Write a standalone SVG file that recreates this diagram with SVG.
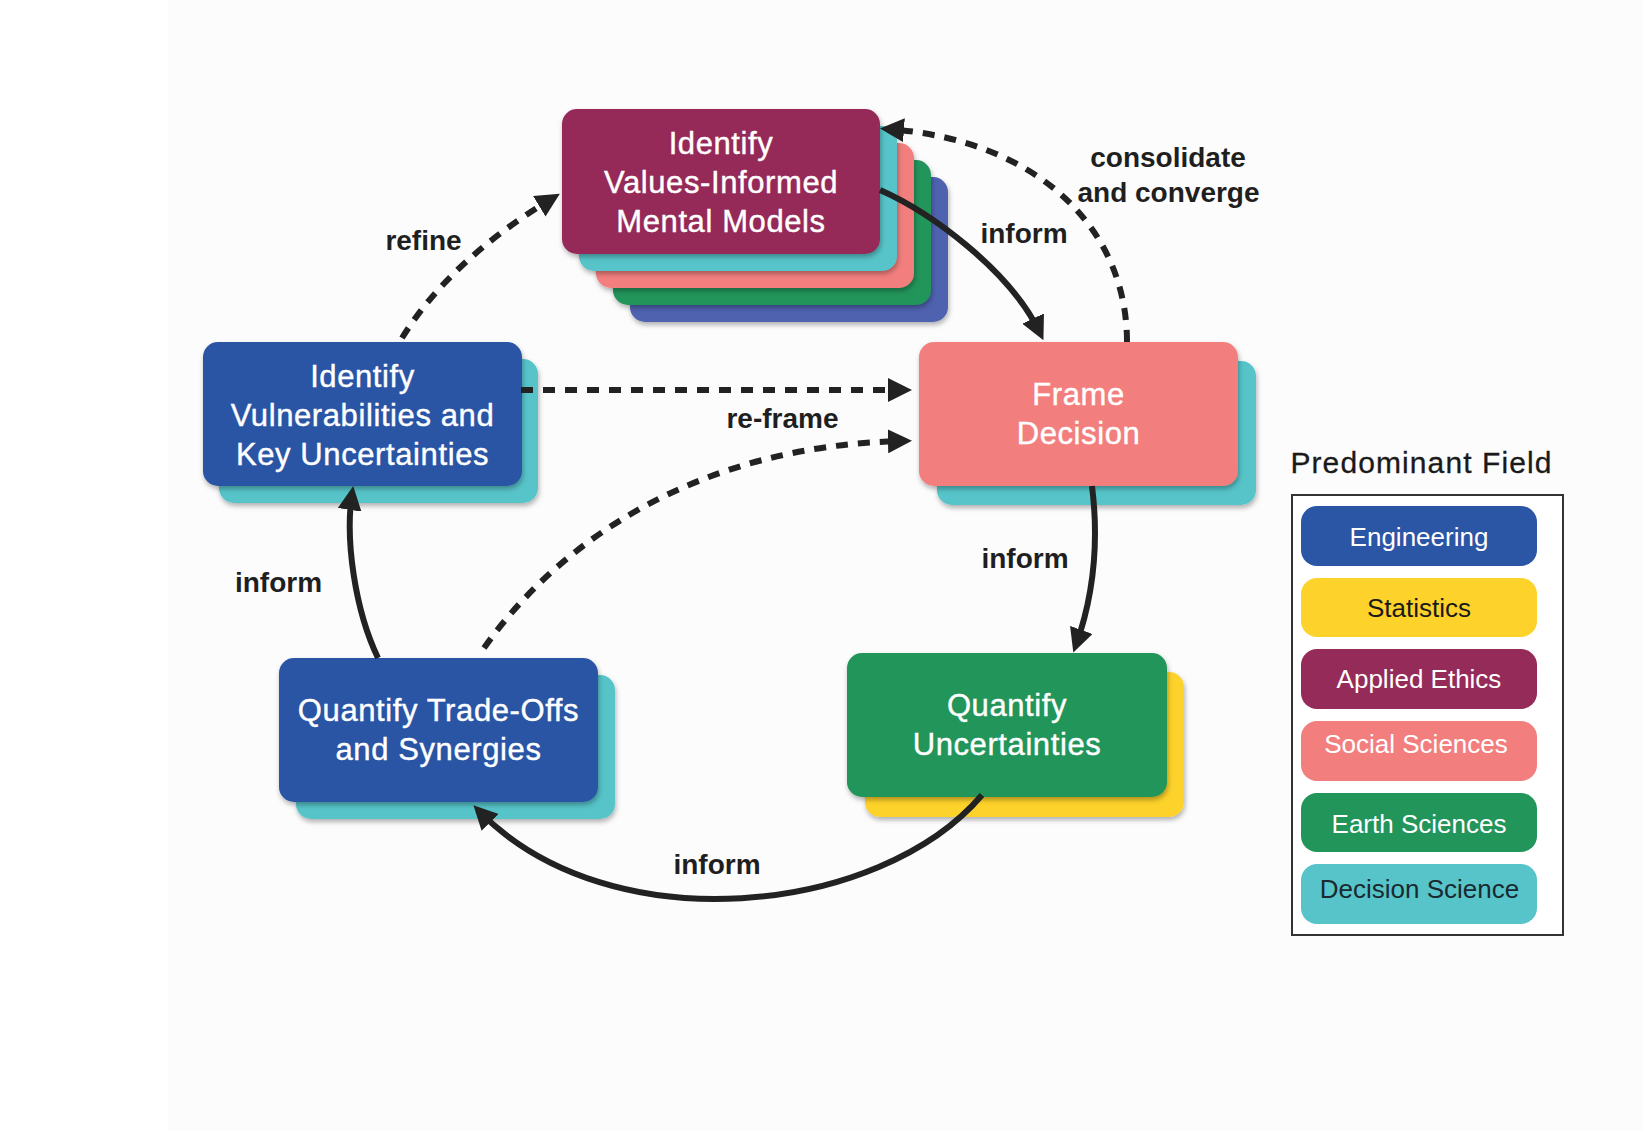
<svg xmlns="http://www.w3.org/2000/svg" width="1643" height="1131" viewBox="0 0 1643 1131">
<defs>
<filter id="sh" x="-10%" y="-10%" width="125%" height="135%">
<feDropShadow dx="1" dy="3" stdDeviation="2.5" flood-color="#000" flood-opacity="0.3"/>
</filter>
<marker id="ah" viewBox="0 0 24 24" refX="16" refY="12" markerWidth="24" markerHeight="24" markerUnits="userSpaceOnUse" orient="auto">
<path d="M0,0 L24,12 L0,24 z" fill="#222"/>
</marker>
<style>
.box{filter:url(#sh);}
.nt{font-family:"Liberation Sans",Arial,sans-serif;font-size:31px;fill:#fff;text-anchor:middle;letter-spacing:0.6px;stroke:#fff;stroke-width:0.4px;}
.lb{font-family:"Liberation Sans",Arial,sans-serif;font-size:28px;font-weight:bold;fill:#1f1f1f;text-anchor:middle;}
.lg{font-family:"Liberation Sans",Arial,sans-serif;font-size:26px;text-anchor:middle;}
.solid{fill:none;stroke:#222;stroke-width:6;marker-end:url(#ah);}
.dash{fill:none;stroke:#222;stroke-width:6;stroke-dasharray:12 10;marker-end:url(#ah);}
</style>
</defs>
<rect x="0" y="0" width="1643" height="1131" fill="#ffffff"/>
<rect x="168" y="0" width="1475" height="1131" fill="#fcfcfc"/>

<g id="node-values">
<rect class="box" x="630" y="177" width="318" height="145" rx="15" fill="#4f62b0"/>
<rect class="box" x="613" y="160" width="318" height="145" rx="15" fill="#22955a"/>
<rect class="box" x="596" y="143" width="318" height="145" rx="15" fill="#f27f7e"/>
<rect class="box" x="579" y="126" width="318" height="145" rx="15" fill="#57c4c9"/>
<rect class="box" x="562" y="109" width="318" height="145" rx="15" fill="#952b58"/>
<text class="nt" x="721" y="154">Identify</text>
<text class="nt" x="721" y="193">Values-Informed</text>
<text class="nt" x="721" y="232">Mental Models</text>
</g>

<g id="node-vulnerabilities">
<rect class="box" x="219" y="359" width="319" height="144" rx="15" fill="#57c4c9"/>
<rect class="box" x="203" y="342" width="319" height="144" rx="15" fill="#2b55a5"/>
<text class="nt" x="362.5" y="387">Identify</text>
<text class="nt" x="362.5" y="426">Vulnerabilities and</text>
<text class="nt" x="362.5" y="465">Key Uncertainties</text>
</g>

<g id="node-frame">
<rect class="box" x="937" y="361" width="319" height="144" rx="15" fill="#57c4c9"/>
<rect class="box" x="919" y="342" width="319" height="144" rx="15" fill="#f27f7e"/>
<text class="nt" x="1078.5" y="405">Frame</text>
<text class="nt" x="1078.5" y="444">Decision</text>
</g>

<g id="node-tradeoffs">
<rect class="box" x="296" y="675" width="319" height="144" rx="15" fill="#57c4c9"/>
<rect class="box" x="279" y="658" width="319" height="144" rx="15" fill="#2b55a5"/>
<text class="nt" x="438.5" y="721">Quantify Trade-Offs</text>
<text class="nt" x="438.5" y="760">and Synergies</text>
</g>

<g id="node-uncertainties">
<rect class="box" x="865" y="672" width="319" height="145" rx="15" fill="#fdd22a"/>
<rect class="box" x="847" y="653" width="320" height="144" rx="15" fill="#22955a"/>
<text class="nt" x="1007" y="716">Quantify</text>
<text class="nt" x="1007" y="755">Uncertainties</text>
</g>

<g id="connectors">
<path class="dash" d="M402,338 Q450,260 553,198"/>
<path class="solid" d="M880,190 C930,212 1010,270 1040,333"/>
<path class="dash" d="M1127,342 C1127,230 1040,140 888,129"/>
<path class="dash" d="M521,390 L904,390"/>
<path class="dash" d="M484,648 C560,540 700,445 904,441"/>
<path class="solid" d="M1092,486 C1100,550 1092,600 1076,645"/>
<path class="solid" d="M982,795 C880,915 610,945 479,811"/>
<path class="solid" d="M378,658 C355,610 345,540 352,494"/>
</g>

<g id="labels">
<text class="lb" x="423.5" y="250">refine</text>
<text class="lb" x="1024" y="243">inform</text>
<text class="lb" x="1168" y="167">consolidate</text>
<text class="lb" x="1168.5" y="202">and converge</text>
<text class="lb" x="782.5" y="428">re-frame</text>
<text class="lb" x="278.5" y="592">inform</text>
<text class="lb" x="1025" y="568">inform</text>
<text class="lb" x="717" y="874">inform</text>
</g>

<g id="legend">
<text x="1421.5" y="473" font-family="Liberation Sans, Arial, sans-serif" font-size="30" letter-spacing="1.1" fill="#1a1a1a" stroke="#1a1a1a" stroke-width="0.3" text-anchor="middle">Predominant Field</text>
<rect x="1292" y="495" width="271" height="440" fill="#ffffff" stroke="#333" stroke-width="2"/>
<g id="legend-engineering">
<rect x="1301" y="506" width="236" height="60" rx="16" fill="#2b55a5"/>
<text class="lg" x="1419" y="546" fill="#fff">Engineering</text>
</g>
<g id="legend-statistics">
<rect x="1301" y="578" width="236" height="59" rx="16" fill="#fdd22a"/>
<text class="lg" x="1419" y="617" fill="#1a1a1a">Statistics</text>
</g>
<g id="legend-ethics">
<rect x="1301" y="649" width="236" height="60" rx="16" fill="#952b58"/>
<text class="lg" x="1419" y="688" fill="#fff">Applied Ethics</text>
</g>
<g id="legend-social">
<rect x="1301" y="721" width="236" height="60" rx="16" fill="#f27f7e"/>
<text class="lg" x="1416" y="753" fill="#fff">Social Sciences</text>
</g>
<g id="legend-earth">
<rect x="1301" y="793" width="236" height="59" rx="16" fill="#22955a"/>
<text class="lg" x="1419" y="833" fill="#fff">Earth Sciences</text>
</g>
<g id="legend-decision">
<rect x="1301" y="864" width="236" height="60" rx="16" fill="#57c4c9"/>
<text class="lg" x="1419.5" y="898" fill="#1a2a30">Decision Science</text>
</g>
</g>
</svg>
